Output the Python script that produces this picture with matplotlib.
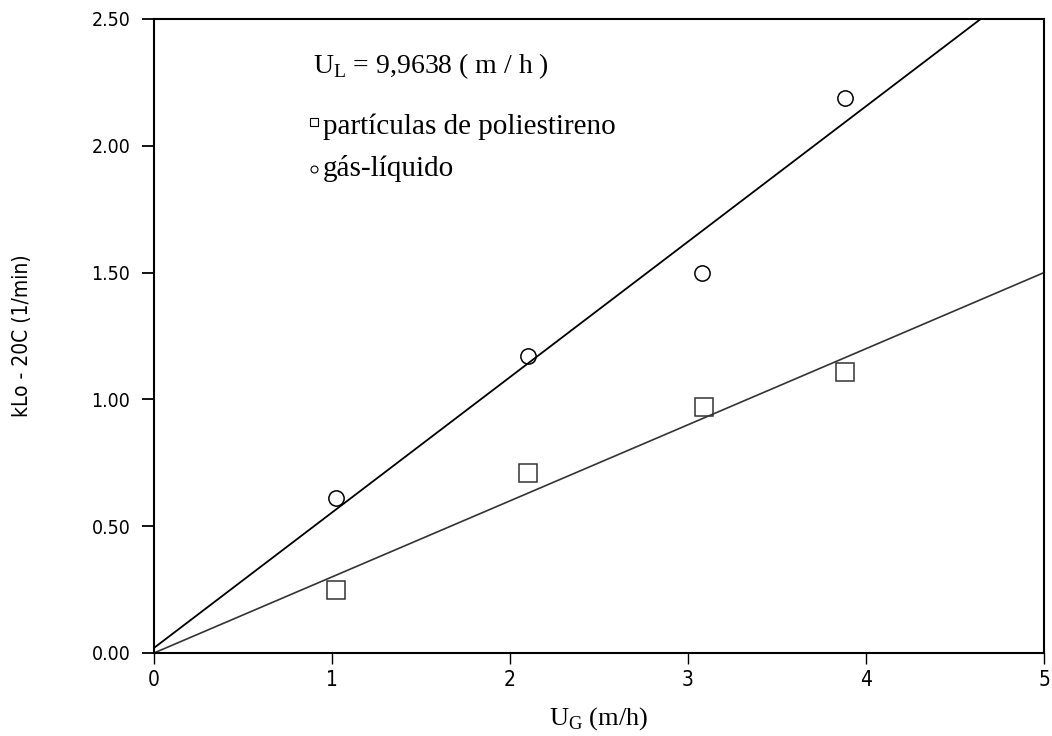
import matplotlib
matplotlib.use("Agg")
import matplotlib.pyplot as plt
import numpy as np

# dados
ug_gas = [1.02, 2.10, 3.08, 3.88]
kla_gas = [0.61, 1.17, 1.50, 2.19]
ug_pol = [1.02, 2.10, 3.09, 3.88]
kla_pol = [0.25, 0.71, 0.97, 1.11]

# retas ajustadas (coef. angular, coef. linear)
fit_gas = (0.534, 0.02)
fit_pol = (0.300, 0.0)

xticks = [0, 1, 2, 3, 4, 5]
yticks = [0.0, 0.5, 1.0, 1.5, 2.0, 2.5]

narrow = ['DejaVu Sans']
serif = ['Liberation Serif', 'DejaVu Serif']

fig = plt.figure(figsize=(10.52, 7.36), dpi=100)
ax = fig.add_axes([154 / 1052, 1 - 653 / 736, 890 / 1052, 634 / 736])

xs = np.array([0, 5])
ax.plot(xs, fit_gas[0] * xs + fit_gas[1], color='black', lw=1.3)
ax.plot(xs, fit_pol[0] * xs + fit_pol[1], color='#333333', lw=1.2)

ax.plot(ug_gas, kla_gas, 'o', ms=11, mfc='none', mec='black', mew=1.1)
ax.plot(ug_pol, kla_pol, 's', ms=13, mfc='none', mec='#333333', mew=1.1)

ax.set_xlim(0, 5)
ax.set_ylim(0, 2.5)
ax.set_xticks(xticks)
ax.set_yticks(yticks)
ax.set_xticklabels([str(v) for v in xticks], family=narrow, fontsize=15,
                   fontstretch='condensed')
ax.set_yticklabels(['%.2f' % v for v in yticks], family=narrow, fontsize=14,
                   fontstretch='condensed')
ax.tick_params(axis='y', direction='out', length=9, width=1.3, pad=8)
ax.tick_params(axis='x', direction='out', length=8, width=1.0, pad=4)
for s in ax.spines.values():
    s.set_linewidth(1.5)

ax.set_ylabel('kLo - 20C (1/min)', family=narrow, fontsize=15,
              fontstretch='condensed')
ax.yaxis.set_label_coords(-0.137, 0.5)
ax.set_xlabel(r'U$_\mathregular{G}$ (m/h)', family=serif, fontsize=19, labelpad=11)

# legenda desenhada como texto
ax.text(0.895, 2.285, r'U$_\mathregular{L}$ = 9,9638 ( m / h )', family=serif, fontsize=20)
ax.plot([0.90], [2.095], 's', ms=6, mfc='none', mec='black', mew=0.8)
ax.text(0.947, 2.045, 'partículas de poliestireno', family=serif, fontsize=21)
ax.plot([0.90], [1.91], 'o', ms=5, mfc='none', mec='black', mew=0.8)
ax.text(0.947, 1.880, 'gás-líquido', family=serif, fontsize=21)

fig.savefig('out.png', dpi=100)
